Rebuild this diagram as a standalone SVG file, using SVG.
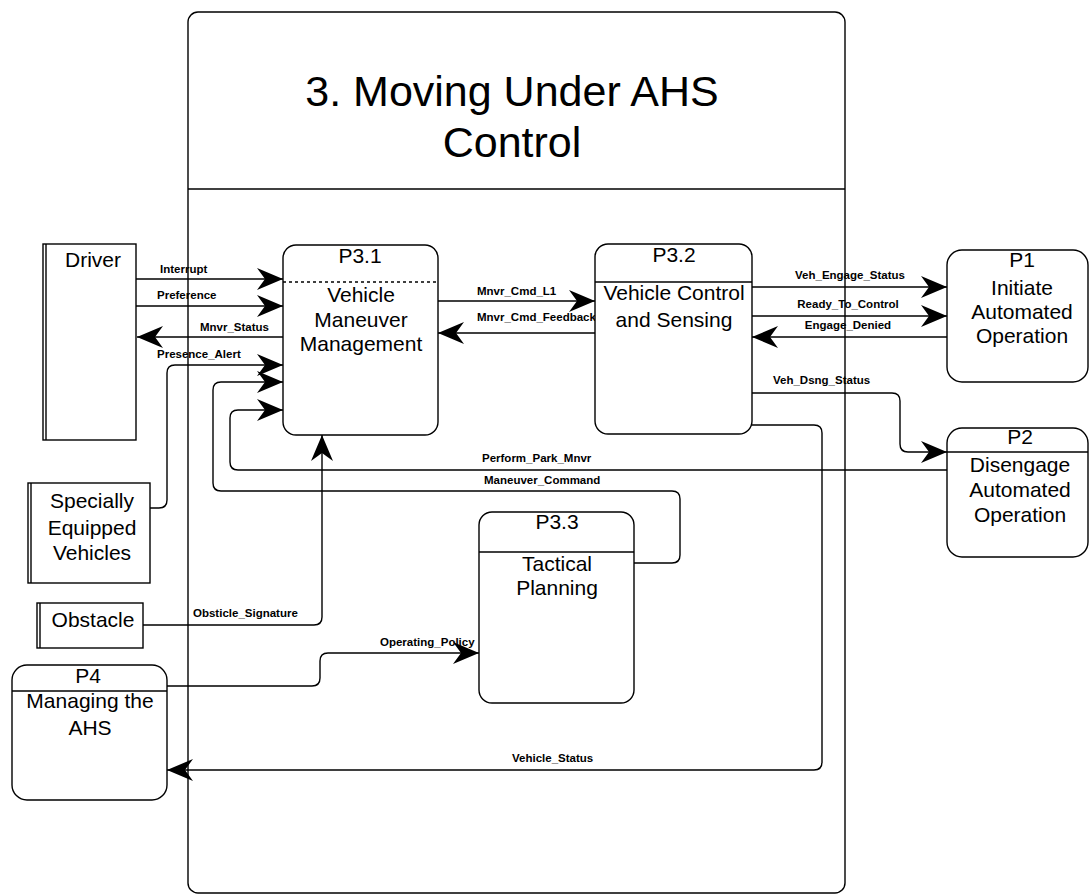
<svg xmlns="http://www.w3.org/2000/svg" width="1091" height="896" viewBox="0 0 1091 896">
<style>
.box{fill:#fff;stroke:#000;stroke-width:1.4}
.ln{fill:none;stroke:#000;stroke-width:1.4}
.ttl{font-family:"Liberation Sans",Arial,sans-serif;font-size:43px;text-anchor:middle;fill:#000}
.nt{font-family:"Liberation Sans",Arial,sans-serif;font-size:21px;text-anchor:middle;fill:#000}
.lb{font-family:"Liberation Sans",Arial,sans-serif;font-size:11.5px;font-weight:bold;fill:#000}
.arr{fill:none;stroke:#000;stroke-width:1.4;marker-end:url(#ah)}
</style>
<defs>
<marker id="ah" viewBox="0 0 26 22" refX="26" refY="11" markerWidth="26" markerHeight="22" markerUnits="userSpaceOnUse" orient="auto">
<path d="M0,0 L26,11 L0,22 L8,11 Z" fill="#000"/>
</marker>
</defs>
<rect width="1091" height="896" fill="#fff"/>

<g id="container">
<rect x="188" y="12" width="657" height="881" rx="10" class="ln"/>
<line x1="188" y1="189" x2="845" y2="189" class="ln"/>
<text class="ttl" x="512" y="106">3. Moving Under AHS</text>
<text class="ttl" x="512" y="157">Control</text>
</g>

<g id="connectors">
<path class="arr" d="M136,279 H283"/>
<text class="lb" x="160" y="273">Interrupt</text>
<path class="arr" d="M136,306 H283"/>
<text class="lb" x="157" y="299">Preference</text>
<path class="arr" d="M283,337 H137"/>
<text class="lb" x="200" y="331">Mnvr_Status</text>
<path class="arr" d="M150,508 H159 Q167,508 167,500 V373 Q167,365 175,365 H283"/>
<text class="lb" x="157" y="358">Presence_Alert</text>
<path class="arr" d="M634,563 H672 Q680,563 680,555 V499 Q680,491 672,491 H221 Q213,491 213,483 V390 Q213,382 221,382 H283"/>
<text class="lb" x="484" y="484">Maneuver_Command</text>
<path class="arr" d="M947,470 H238 Q230,470 230,462 V418 Q230,410 238,410 H283"/>
<text class="lb" x="482" y="462">Perform_Park_Mnvr</text>
<path class="arr" d="M143,625 H314 Q322,625 322,617 V435"/>
<text class="lb" x="193" y="617">Obsticle_Signature</text>
<path class="arr" d="M167,686 H312 Q320,686 320,678 V661 Q320,653 328,653 H479"/>
<text class="lb" x="380" y="646">Operating_Policy</text>
<path class="arr" d="M752,425 H814 Q822,425 822,433 V762 Q822,770 814,770 H167"/>
<text class="lb" x="512" y="762">Vehicle_Status</text>
<path class="arr" d="M438,301 H595"/>
<text class="lb" x="477" y="295">Mnvr_Cmd_L1</text>
<path class="arr" d="M595,333 H438"/>
<text class="lb" x="477" y="321">Mnvr_Cmd_Feedback</text>
<path class="arr" d="M752,287 H947"/>
<text class="lb" x="850" y="279" text-anchor="middle">Veh_Engage_Status</text>
<path class="arr" d="M752,316 H947"/>
<text class="lb" x="848" y="308" text-anchor="middle">Ready_To_Control</text>
<path class="arr" d="M947,337 H752"/>
<text class="lb" x="848" y="329" text-anchor="middle">Engage_Denied</text>
<path class="arr" d="M752,393 H892 Q900,393 900,401 V444 Q900,452 908,452 H947"/>
<text class="lb" x="773" y="384">Veh_Dsng_Status</text>
</g>

<g id="driver">
<rect x="43" y="244" width="93" height="196" class="box"/>
<line x1="46" y1="244" x2="46" y2="440" class="ln"/>
<text class="nt" x="93" y="267">Driver</text>
</g>

<g id="sev">
<rect x="28" y="483" width="122" height="100" class="box"/>
<line x1="31" y1="483" x2="31" y2="583" class="ln"/>
<text class="nt" x="92" y="508">Specially</text>
<text class="nt" x="92" y="535">Equipped</text>
<text class="nt" x="92" y="560">Vehicles</text>
</g>

<g id="obstacle">
<rect x="37" y="603" width="106" height="45" class="box"/>
<line x1="40" y1="603" x2="40" y2="648" class="ln"/>
<text class="nt" x="93" y="627">Obstacle</text>
</g>

<g id="p4">
<rect x="12" y="665" width="155" height="135" rx="15" class="box"/>
<line x1="12" y1="691" x2="167" y2="691" class="ln"/>
<text class="nt" x="88" y="683">P4</text>
<text class="nt" x="90" y="708">Managing the</text>
<text class="nt" x="90" y="735">AHS</text>
</g>

<g id="p31">
<rect x="283" y="245" width="155" height="190" rx="13" class="box"/>
<line x1="283" y1="282" x2="438" y2="282" class="ln" stroke-dasharray="3 3" stroke-width="0.8"/>
<text class="nt" x="360" y="263">P3.1</text>
<text class="nt" x="361" y="302">Vehicle</text>
<text class="nt" x="361" y="327">Maneuver</text>
<text class="nt" x="361" y="351">Management</text>
</g>

<g id="p32">
<rect x="595" y="244" width="157" height="190" rx="13" class="box"/>
<line x1="595" y1="282" x2="752" y2="282" class="ln"/>
<text class="nt" x="674" y="262">P3.2</text>
<text class="nt" x="674" y="300">Vehicle Control</text>
<text class="nt" x="674" y="327">and Sensing</text>
</g>

<g id="p33">
<rect x="479" y="512" width="155" height="191" rx="13" class="box"/>
<line x1="479" y1="552" x2="634" y2="552" class="ln"/>
<text class="nt" x="557" y="529">P3.3</text>
<text class="nt" x="557" y="571">Tactical</text>
<text class="nt" x="557" y="595">Planning</text>
</g>

<g id="p1">
<rect x="947" y="250" width="141" height="132" rx="15" class="box"/>
<text class="nt" x="1022" y="267">P1</text>
<text class="nt" x="1022" y="295">Initiate</text>
<text class="nt" x="1022" y="319">Automated</text>
<text class="nt" x="1022" y="343">Operation</text>
</g>

<g id="p2">
<rect x="947" y="428" width="141" height="129" rx="15" class="box"/>
<line x1="947" y1="452" x2="1088" y2="452" class="ln"/>
<text class="nt" x="1020" y="444">P2</text>
<text class="nt" x="1020" y="472">Disengage</text>
<text class="nt" x="1020" y="497">Automated</text>
<text class="nt" x="1020" y="522">Operation</text>
</g>
</svg>
